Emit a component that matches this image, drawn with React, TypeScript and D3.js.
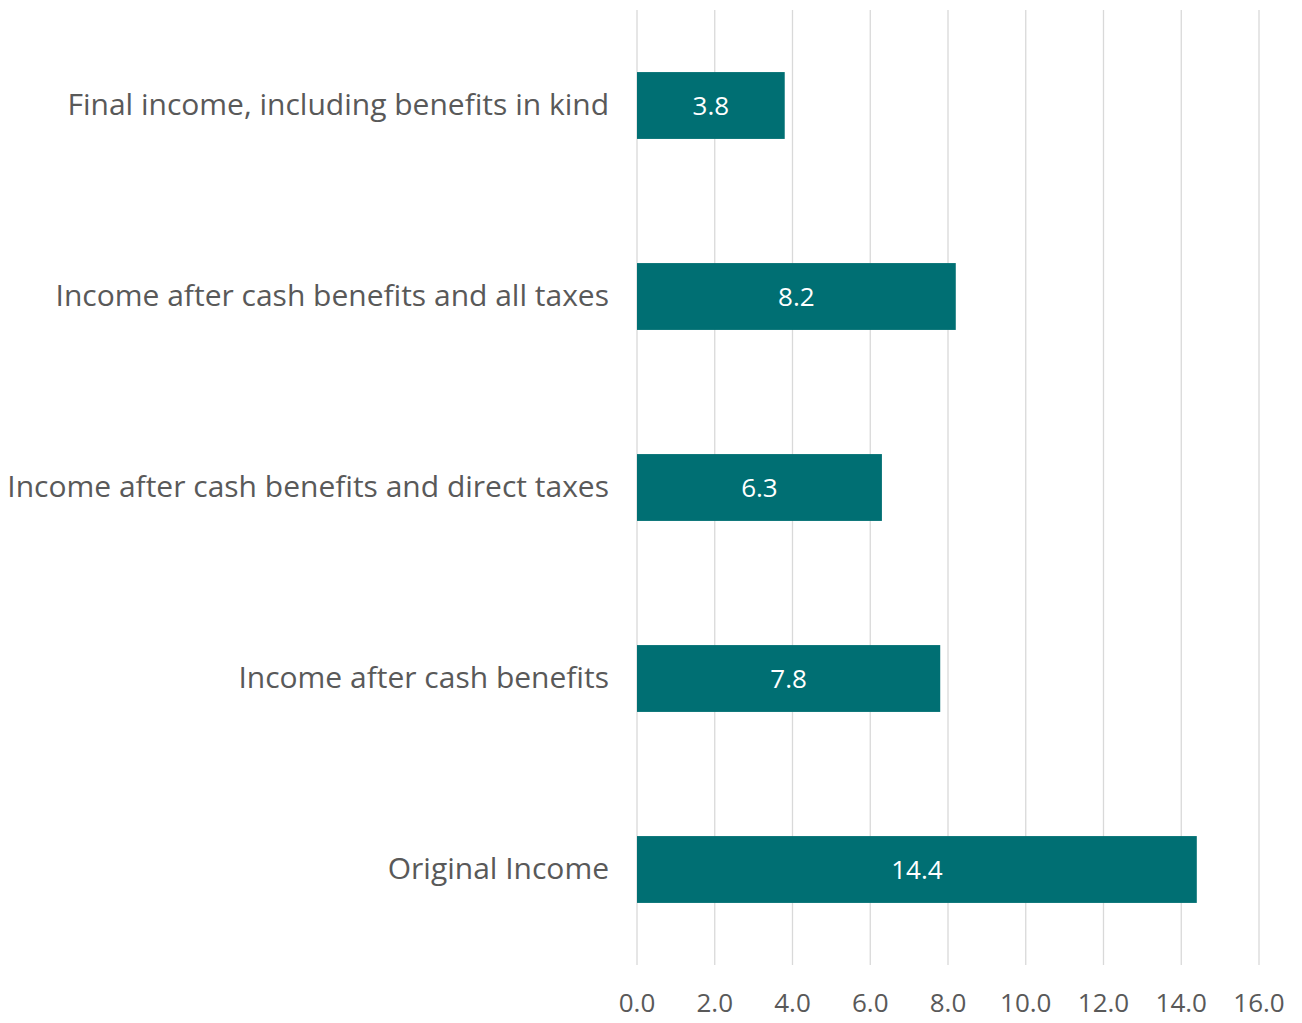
import React from "react";
import * as d3 from "d3";

const categories = [
  "Final income, including benefits in kind",
  "Income after cash benefits and all taxes",
  "Income after cash benefits and direct taxes",
  "Income after cash benefits",
  "Original Income",
];
const values = [3.8, 8.2, 6.3, 7.8, 14.4];
const ticks = [0, 2, 4, 6, 8, 10, 12, 14, 16];

const W = 1302;
const H = 1023;
const left = 637;
const right = 1259;
const top = 10;
const bottom = 965;
const font = "'Open Sans', Lato, sans-serif";

export default function App() {
  const x = d3.scaleLinear().domain([0, 16]).range([left, right]);
  const y = d3.scaleBand<string>().domain(categories).range([top, bottom]).paddingInner(0.65).paddingOuter(0.325);
  return (
    <svg width={W} height={H} style={{ position: "absolute", left: 0, top: 0, background: "#fff" }}>
      {ticks.map((t) => (
        <line key={"g" + t} x1={x(t)} x2={x(t)} y1={top} y2={bottom} stroke="#d9d9d9" strokeWidth={1.3} />
      ))}
      {categories.map((c, i) => (
        <g key={c}>
          <rect x={x(0)} y={y(c)} width={x(values[i]) - x(0)} height={y.bandwidth()} fill="#006F73" />
          <text
            x={(x(0) + x(values[i])) / 2}
            y={(y(c) as number) + y.bandwidth() / 2}
            dy="0.36em"
            textAnchor="middle"
            fill="#fff"
            fontFamily={font}
            fontSize={26}
          >
            {values[i].toFixed(1)}
          </text>
          <text
            x={609}
            y={(y(c) as number) + y.bandwidth() / 2}
            dy="0.33em"
            textAnchor="end"
            fill="#595959"
            fontFamily={font}
            fontSize={30}
          >
            {c}
          </text>
        </g>
      ))}
      {ticks.map((t) => (
        <text key={"t" + t} x={x(t)} y={1012} textAnchor="middle" fill="#595959" fontFamily={font} fontSize={26}>
          {t.toFixed(1)}
        </text>
      ))}
    </svg>
  );
}
